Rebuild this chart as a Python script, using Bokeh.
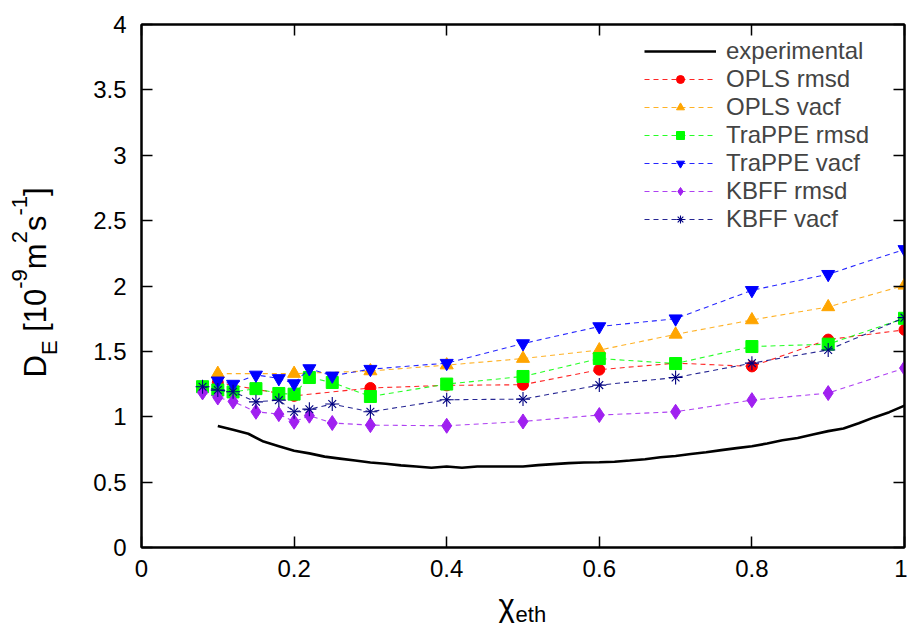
import math
from bokeh.plotting import figure
from bokeh.layouts import row, column
from bokeh.models import FixedTicker, LinearAxis, Legend, LegendItem
from bokeh.core.properties import value
from bokeh.embed import file_html
from bokeh.resources import INLINE

# ---------------- data ----------------
exp_x = [0.10, 0.12, 0.14, 0.16, 0.18, 0.20, 0.22, 0.24, 0.26, 0.28, 0.30, 0.32,
         0.34, 0.36, 0.38, 0.40, 0.42, 0.44, 0.46, 0.48, 0.50, 0.52, 0.54, 0.56,
         0.58, 0.60, 0.62, 0.64, 0.66, 0.68, 0.70, 0.72, 0.74, 0.76, 0.78, 0.80,
         0.82, 0.84, 0.86, 0.88, 0.90, 0.92, 0.94, 0.96, 0.98, 1.00]
exp_y = [0.93, 0.90, 0.87, 0.81, 0.775, 0.74, 0.72, 0.695, 0.68, 0.665, 0.65, 0.64,
         0.628, 0.62, 0.61, 0.62, 0.61, 0.62, 0.62, 0.62, 0.62, 0.63, 0.638, 0.645,
         0.65, 0.652, 0.656, 0.665, 0.675, 0.69, 0.70, 0.715, 0.728, 0.745, 0.76, 0.775,
         0.795, 0.82, 0.838, 0.865, 0.89, 0.91, 0.95, 0.995, 1.035, 1.085]

opls_rmsd_x = [0.1, 0.2, 0.3, 0.4, 0.5, 0.6, 0.7, 0.8, 0.9, 1.0]
opls_rmsd_y = [1.26, 1.16, 1.22, 1.24, 1.245, 1.36, 1.41, 1.385, 1.59, 1.665]

opls_vacf_x = [0.1, 0.2, 0.3, 0.4, 0.5, 0.6, 0.7, 0.8, 0.9, 1.0]
opls_vacf_y = [1.33, 1.33, 1.35, 1.395, 1.445, 1.51, 1.63, 1.74, 1.84, 2.005]

trappe_rmsd_x = [0.08, 0.1, 0.12, 0.15, 0.18, 0.2, 0.22, 0.25, 0.3, 0.4, 0.5, 0.6, 0.7, 0.8, 0.9, 1.0]
trappe_rmsd_y = [1.23, 1.205, 1.19, 1.215, 1.178, 1.173, 1.30, 1.262, 1.155, 1.25, 1.308, 1.445, 1.407, 1.537, 1.555, 1.753]

trappe_vacf_x = [0.1, 0.12, 0.15, 0.18, 0.2, 0.22, 0.25, 0.3, 0.4, 0.5, 0.6, 0.7, 0.8, 0.9, 1.0]
trappe_vacf_y = [1.275, 1.25, 1.32, 1.293, 1.254, 1.369, 1.313, 1.364, 1.41, 1.56, 1.69, 1.75, 1.967, 2.09, 2.28]

kbff_rmsd_x = [0.08, 0.1, 0.12, 0.15, 0.18, 0.2, 0.22, 0.25, 0.3, 0.4, 0.5, 0.6, 0.7, 0.8, 0.9, 1.0]
kbff_rmsd_y = [1.186, 1.147, 1.117, 1.038, 1.02, 0.962, 1.008, 0.952, 0.936, 0.931, 0.964, 1.013, 1.038, 1.127, 1.181, 1.372]

kbff_vacf_x = [0.08, 0.1, 0.12, 0.15, 0.18, 0.2, 0.22, 0.25, 0.3, 0.4, 0.5, 0.6, 0.7, 0.8, 0.9, 1.0]
kbff_vacf_y = [1.23, 1.204, 1.191, 1.114, 1.127, 1.038, 1.058, 1.097, 1.038, 1.13, 1.135, 1.242, 1.30, 1.41, 1.511, 1.758]

x_ticks = [0, 0.2, 0.4, 0.6, 0.8, 1]
x_tick_labels = ["0", "0.2", "0.4", "0.6", "0.8", "1"]
y_ticks = [0, 0.5, 1, 1.5, 2, 2.5, 3, 3.5, 4]
y_tick_labels = ["0", "0.5", "1", "1.5", "2", "2.5", "3", "3.5", "4"]

series_labels = ["experimental", "OPLS rmsd", "OPLS vacf", "TraPPE rmsd",
                 "TraPPE vacf", "KBFF rmsd", "KBFF vacf"]

# axis title pieces: (text, font px, baseline position in strip pixels)
ylabel_parts = [("D", 31, 46), ("E", 22, 57), (" [10", 31, 46), ("-9", 22, 27),
                ("m", 31, 46), ("2", 22, 27), ("s", 31, 46), ("-1", 22, 27), ("]", 31, 46)]
xlabel_parts = [("χ", 31, 11), ("eth", 22, 5)]

FONT = "Liberation Sans"
MID = 0.3465      # (ascent - descent) / 2 of Liberation Sans, in em
# Liberation Sans (Arial-metric) advance widths, in em
ADV = {"D": .722, "E": .667, " ": .278, "[": .278, "1": .556, "0": .556, "-": .333,
       "9": .556, "m": .833, "2": .556, "s": .5, "]": .278, "χ": .55,
       "e": .556, "t": .278, "h": .556}


def advance(txt, size):
    return sum(ADV.get(c, .556) for c in txt) * size


YLW = 70          # width of the y-title strip
MAIN_W = 837
MAIN_H = 587
XLH = 40          # height of the x-title strip
TOTAL_H = MAIN_H + XLH
FRAME_W = 763

# ---------------- main figure ----------------
p = figure(width=MAIN_W, height=MAIN_H,
           x_range=(0, 1), y_range=(0, 4),
           min_border_left=71, min_border_top=24, min_border_bottom=40,
           min_border_right=3,
           output_backend="svg", toolbar_location=None, tools="")
p.xgrid.visible = False
p.ygrid.visible = False
p.outline_line_color = "black"
p.outline_line_width = 2


def style_axis(ax, ticks, labels, show_labels):
    ax.ticker = FixedTicker(ticks=ticks)
    if show_labels:
        ax.major_label_overrides = dict(zip(ticks, labels))
    else:
        ax.major_label_overrides = {t: "" for t in ticks}
    ax.major_tick_in = 11
    ax.major_tick_out = 0
    ax.minor_tick_line_color = None
    ax.major_tick_line_color = "black"
    ax.major_tick_line_width = 1.5
    ax.axis_line_color = "black"
    ax.axis_line_width = 2
    ax.major_label_text_font = FONT
    ax.major_label_text_font_size = "24px"
    ax.major_label_text_color = "black"


style_axis(p.xaxis[0], x_ticks, x_tick_labels, True)
p.xaxis[0].major_label_standoff = 12
style_axis(p.yaxis[0], y_ticks, y_tick_labels, True)
p.yaxis[0].major_label_standoff = 15

top_ax = LinearAxis()
style_axis(top_ax, x_ticks, x_tick_labels, False)
top_ax.major_label_standoff = 0
p.add_layout(top_ax, "above")
right_ax = LinearAxis()
style_axis(right_ax, y_ticks, y_tick_labels, False)
right_ax.major_label_standoff = 0
p.add_layout(right_ax, "right")

dash = "5 4"
items = []

r = p.line(exp_x, exp_y, line_color="black", line_width=2.6)
items.append(LegendItem(label=series_labels[0], renderers=[r]))


def series(xs, ys, color, marker, size, label):
    rl = p.line(xs, ys, line_color=color, line_width=1.1, line_dash=dash, line_alpha=0.85)
    rs = p.scatter(xs, ys, marker=marker, size=size, fill_color=color, line_color=color)
    items.append(LegendItem(label=label, renderers=[rl, rs]))


series(opls_rmsd_x, opls_rmsd_y, "#ff0000", "circle", 11, series_labels[1])
series(opls_vacf_x, opls_vacf_y, "#ffa500", "triangle", 13, series_labels[2])
series(trappe_rmsd_x, trappe_rmsd_y, "#00ff00", "square", 12, series_labels[3])
series(trappe_vacf_x, trappe_vacf_y, "#0000ff", "inverted_triangle", 13, series_labels[4])
series(kbff_rmsd_x, kbff_rmsd_y, "#a020f0", "diamond", 15, series_labels[5])

# KBFF vacf: eight-armed star (+ and x)
rl = p.line(kbff_vacf_x, kbff_vacf_y, line_color="#000080", line_width=1.1, line_dash=dash, line_alpha=0.85)
rc = p.scatter(kbff_vacf_x, kbff_vacf_y, marker="cross", size=14, line_color="#000080", line_width=1.1)
rx = p.scatter(kbff_vacf_x, kbff_vacf_y, marker="x", size=11, line_color="#000080", line_width=1.1)
items.append(LegendItem(label=series_labels[6], renderers=[rl, rc, rx]))

legend = Legend(items=items, location="top_right")
legend.margin = 9
legend.padding = 4
legend.spacing = 0
legend.label_height = 20
legend.glyph_height = 20
legend.glyph_width = 72
legend.label_width = 165
legend.label_standoff = 10
legend.label_text_font = FONT
legend.label_text_font_size = "24px"
legend.border_line_alpha = 0
legend.background_fill_alpha = 0
p.add_layout(legend)


def strip(w, h, xr):
    f = figure(width=w, height=h, x_range=(0, xr), y_range=(0, h), title=None,
               min_border=0, min_border_left=0, min_border_right=0,
               min_border_top=0, min_border_bottom=0,
               x_axis_location=None, y_axis_location=None,
               output_backend="svg", toolbar_location=None, tools="")
    f.xgrid.visible = False
    f.ygrid.visible = False
    f.outline_line_color = None
    f.background_fill_color = "white"
    f.border_fill_color = "white"
    return f


# ---------------- y title strip (pixel coordinates of the strip) ----------------
ylab = strip(YLW, TOTAL_H, YLW)
pos = 250         # start along the vertical (bottom of "D")
for txt, size, base in ylabel_parts:
    shown = txt.lstrip()
    lead = advance(txt[:len(txt) - len(shown)], size)
    ylab.text(x=[base - MID * size], y=[pos + lead], text=[shown], angle=math.pi / 2,
              text_align="left", text_baseline="middle",
              text_font=value(FONT), text_font_size=value(f"{size}px"), text_color="black")
    pos += advance(txt, size)

# ---------------- x title strip (frame aligned with the plot frame) ----------------
xlab = strip(MAIN_W, XLH, FRAME_W)
xpos = 357
for txt, size, base in xlabel_parts:
    xlab.text(x=[xpos], y=[base + MID * size], text=[txt],
              text_align="left", text_baseline="middle",
              text_font=value(FONT), text_font_size=value(f"{size}px"), text_color="black")
    xpos += advance(txt, size)

layout = row(ylab, column(p, xlab, spacing=0), spacing=0)
open("out.html", "w").write(file_html(layout, INLINE))
